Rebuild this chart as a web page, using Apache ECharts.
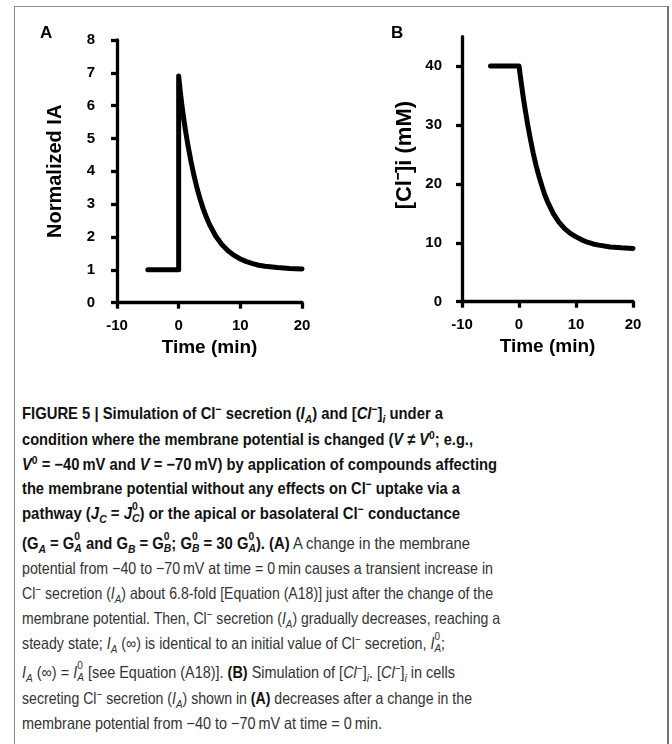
<!DOCTYPE html>
<html>
<head>
<meta charset="utf-8">
<title>Figure 5</title>
<script src="https://cdn.jsdelivr.net/npm/echarts@6/dist/echarts.min.js"></script>
<style>
  body { margin: 0; background: #fff; }
  #frame { position: absolute; left: 14px; top: 6px; width: 652px; height: 800px;
           border: 1px solid #8a8a8a; border-right: 2px solid #707070; }
  #main { position: absolute; left: 0; top: 0; width: 672px; height: 380px; }
  #caption { position: absolute; left: 0; top: 0;
             font-family: "Liberation Sans", Arial, sans-serif;
             font-size: 16.5px; color: #333; }
  #caption .ln { position: absolute; left: 22px; white-space: nowrap; line-height: 25px; height: 25px;
                 transform-origin: 0 50%; }
  #caption b { color: #111; }
  #caption sub, #caption sup { font-size: 0.7em; line-height: 0; }
  .ss { display: inline-block; vertical-align: -0.3em; font-size: 0.7em; line-height: 1; }
  .ss span { display: block; }
</style>
</head>
<body>
<div id="frame"></div>
<div id="main"></div>
<div id="caption"></div>
<script>
// panel A: normalized Cl- secretion
var timeA = [-5, 0, 0, 0.25, 0.5, 0.75, 1, 1.25, 1.5, 2, 2.5, 3, 3.5, 4, 4.5, 5, 6, 7, 8, 9, 10, 11, 12, 13, 14, 16, 18, 20];
var iaNorm = [1, 1, 6.9, 6.45, 6.05, 5.7, 5.38, 5.08, 4.8, 4.3, 3.86, 3.47, 3.14, 2.85, 2.6, 2.38, 2.03, 1.77, 1.58, 1.44, 1.33, 1.25, 1.19, 1.14, 1.11, 1.07, 1.04, 1.03];

// panel B: intracellular Cl- (mM)
var timeB = [-5, 0, 0.25, 0.5, 0.75, 1, 1.5, 2, 2.5, 3, 3.5, 4, 4.5, 5, 6, 7, 8, 9, 10, 11, 12, 13, 14, 16, 18, 20];
var clConc = [40, 40, 38.2, 36.4, 34.7, 33.1, 30.2, 27.6, 25.2, 23.1, 21.3, 19.7, 18.2, 17.0, 15.0, 13.5, 12.4, 11.6, 11.0, 10.5, 10.1, 9.8, 9.6, 9.3, 9.15, 9.05];

var xTicks = [-10, 0, 10, 20];
var yTicksA = [0, 1, 2, 3, 4, 5, 6, 7, 8];
var yTicksB = [0, 10, 20, 30, 40];

var F = '"Liberation Sans", Arial, sans-serif';

function pairs(xs, ys) {
    return xs.map(function (x, i) { return [x, ys[i]]; });
}
function axLine() { return { color: '#000', width: 3.3 }; }
function tickLabel(margin, vals) {
    return { margin: margin, customValues: vals, color: '#000', fontFamily: F, fontWeight: 'bold', fontSize: 15 };
}
function nameStyle(size, extra) {
    return Object.assign({ color: '#000', fontFamily: F, fontWeight: 'bold', fontSize: size }, extra || {});
}

function xAxisOf(gi) {
    return {
        type: 'value', gridIndex: gi, min: -10, max: 20, interval: 10,
        name: 'Time (min)', nameLocation: 'middle', nameGap: 33, nameTextStyle: nameStyle(19),
        axisLine: { onZero: false, lineStyle: axLine() },
        axisTick: { length: 6, lineStyle: axLine(), customValues: xTicks },
        axisLabel: tickLabel(16, xTicks),
        splitLine: { show: false }
    };
}

var chart = echarts.init(document.getElementById('main'));
chart.setOption({
    animation: false,
    grid: [
        { left: 117, top: 40, width: 185, height: 262.7, outerBoundsMode: 'none' },
        { left: 462, top: 36.6, width: 171, height: 265.1, outerBoundsMode: 'none' }
    ],
    xAxis: [xAxisOf(0), xAxisOf(1)],
    yAxis: [
        {
            type: 'value', gridIndex: 0, min: 0, max: 8, interval: 1,
            name: 'Normalized IA', nameLocation: 'middle', nameGap: 52, nameTextStyle: nameStyle(20),
            axisLine: { onZero: false, lineStyle: axLine() },
            axisTick: { length: 6, lineStyle: axLine(), customValues: yTicksA },
            axisLabel: tickLabel(22, yTicksA),
            splitLine: { show: false }
        },
        {
            type: 'value', gridIndex: 1, min: 0, max: 45, interval: 5,
            name: '[Cl\u207B]i (mM)', nameLocation: 'middle', nameGap: 46,
            nameTextStyle: nameStyle(22, { padding: [0, 0, 0, 28] }),
            axisLine: { onZero: false, lineStyle: axLine() },
            axisTick: { length: 6, lineStyle: axLine(), customValues: yTicksB },
            axisLabel: tickLabel(20, yTicksB),
            splitLine: { show: false }
        }
    ],
    graphic: [
        { type: 'text', left: 40, top: 25, style: { text: 'A', font: 'bold 17px "Liberation Sans", Arial', fill: '#000' } },
        { type: 'text', left: 391, top: 25, style: { text: 'B', font: 'bold 17px "Liberation Sans", Arial', fill: '#000' } }
    ],
    series: [
        {
            type: 'line', xAxisIndex: 0, yAxisIndex: 0, data: pairs(timeA, iaNorm),
            showSymbol: false, lineStyle: { color: '#000', width: 5, cap: 'round', join: 'round' }
        },
        {
            type: 'line', xAxisIndex: 1, yAxisIndex: 1, data: pairs(timeB, clConc),
            showSymbol: false, lineStyle: { color: '#000', width: 5, cap: 'round', join: 'round' }
        }
    ]
});

// caption, one entry per printed line
function st(a, b) { return '<span class="ss"><span>' + a + '</span><span>' + b + '</span></span>'; }
var M = '\u2212', TS = '\u2009';
var IA = '<i>I<sub>A</sub></i>';
var CLI = '[<i>Cl</i><sup>' + M + '</sup>]<sub><i>i</i></sub>';
var CL = 'Cl<sup>' + M + '</sup>';
var captionLines = [
    '<b>FIGURE 5 | Simulation of ' + CL + ' secretion (' + IA + ') and ' + CLI + ' under a</b>',
    '<b>condition where the membrane potential is changed (<i>V</i> \u2260 <i>V</i><sup>0</sup>; e.g.,</b>',
    '<b><i>V</i><sup>0</sup> = ' + M + '40' + TS + 'mV and <i>V</i> = ' + M + '70' + TS + 'mV) by application of compounds affecting</b>',
    '<b>the membrane potential without any effects on ' + CL + ' uptake via a</b>',
    '<b>pathway (<i>J<sub>C</sub></i> = <i>J</i>' + st('0', '<i>C</i>') + ') or the apical or basolateral ' + CL + ' conductance</b>',
    '<b>(G<sub><i>A</i></sub> = G' + st('0', '<i>A</i>') + ' and G<sub><i>B</i></sub> = G' + st('0', '<i>B</i>') + '; G' + st('0', '<i>B</i>') + ' = 30 G' + st('0', '<i>A</i>') + '). (A)</b> A change in the membrane',
    'potential from ' + M + '40 to ' + M + '70' + TS + 'mV at time = 0' + TS + 'min causes a transient increase in',
    CL + ' secretion (' + IA + ') about 6.8-fold [Equation (A18)] just after the change of the',
    'membrane potential. Then, ' + CL + ' secretion (' + IA + ') gradually decreases, reaching a',
    'steady state; ' + IA + ' (\u221E) is identical to an initial value of ' + CL + ' secretion, <i>I</i>' + st('0', '<i>A</i>') + ';',
    IA + ' (\u221E) = <i>I</i>' + st('0', '<i>A</i>') + ' [see Equation (A18)]. <b>(B)</b> Simulation of ' + CLI + '. ' + CLI + ' in cells',
    'secreting ' + CL + ' secretion (' + IA + ') shown in <b>(A)</b> decreases after a change in the',
    'membrane potential from ' + M + '40 to ' + M + '70' + TS + 'mV at time = 0' + TS + 'min.'
];
// layout of the printed caption: vertical centre and right edge of each line
var lineMid = [413, 439, 464, 488, 513, 543, 568, 593, 618, 643, 672, 698, 723];
var lineEnd = [443, 473, 497, 460, 460, 470, 493, 493, 500, 445, 455, 472, 382];

var cap = document.getElementById('caption');
captionLines.forEach(function (html, i) {
    var d = document.createElement('div');
    d.className = 'ln';
    d.style.top = (lineMid[i] - 12.5) + 'px';
    d.innerHTML = html;
    cap.appendChild(d);
    var w = d.getBoundingClientRect().width;
    d.style.transform = 'scaleX(' + ((lineEnd[i] - 22) / w).toFixed(4) + ')';
});
</script>
</body>
</html>
